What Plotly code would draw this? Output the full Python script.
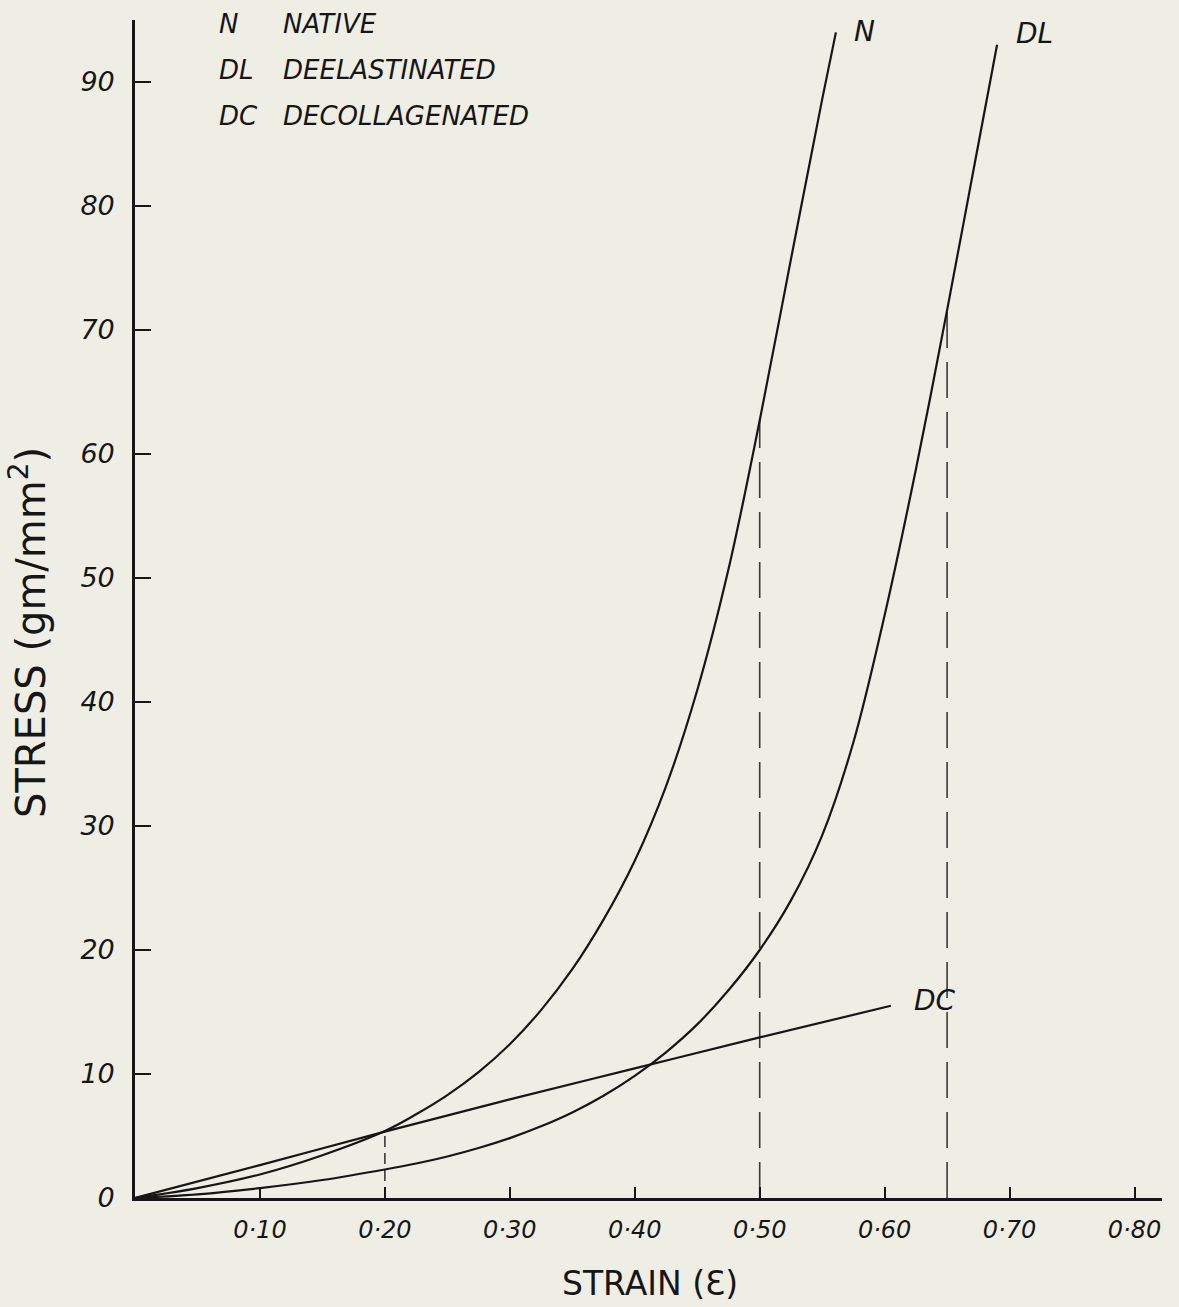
import plotly.graph_objects as go

# Stress-strain curves (stress in gm/mm^2 against strain)
strain_native = [0.0, 0.05, 0.10, 0.15, 0.20, 0.225, 0.25, 0.275, 0.30, 0.325, 0.35, 0.375,
                 0.40, 0.425, 0.45, 0.475, 0.50, 0.525, 0.55, 0.561]
stress_native = [0.0, 0.8, 1.9, 3.45, 5.4, 6.75, 8.3, 10.15, 12.4, 15.15, 18.45, 22.45,
                 27.2, 33.2, 40.95, 50.7, 62.7, 75.7, 88.6, 94.0]

strain_deelast = [0.0, 0.05, 0.10, 0.15, 0.20, 0.225, 0.25, 0.275, 0.30, 0.325, 0.35, 0.375,
                  0.40, 0.425, 0.45, 0.475, 0.50, 0.525, 0.55, 0.575, 0.60, 0.625, 0.65, 0.67, 0.69]
stress_deelast = [0.0, 0.3, 0.8, 1.45, 2.3, 2.78, 3.35, 4.03, 4.83, 5.78, 6.9, 8.25,
                  9.85, 11.75, 14.0, 16.75, 20.0, 24.0, 29.25, 36.75, 47.0, 58.75, 71.6, 82.3, 93.0]

strain_decoll = [0.0, 0.10, 0.20, 0.30, 0.40, 0.50, 0.605]
stress_decoll = [0.0, 2.65, 5.35, 7.95, 10.45, 12.95, 15.5]

# Vertical reference drops at selected strains
drop_strain = [0.20, 0.50, 0.65]
drop_stress = [5.4, 62.7, 71.6]

x_ticks = [0.10, 0.20, 0.30, 0.40, 0.50, 0.60, 0.70, 0.80]
x_ticktext = ["0·10", "0·20", "0·30", "0·40", "0·50", "0·60", "0·70", "0·80"]
y_ticks = [0, 10, 20, 30, 40, 50, 60, 70, 80, 90]

curve_labels = ["N", "DL", "DC"]
key_codes = ["N", "DL", "DC"]
key_names = ["NATIVE", "DEELASTINATED", "DECOLLAGENATED"]

INK = "#161616"
PAPER = "#eeeee5"
FONT = "DejaVu Sans"

# plot-area geometry in pixels (used to place paper-referenced text)
PLOT_W = 1179 - 135 - 17
PLOT_H = 1307 - 20 - 109

fig = go.Figure()

dash_styles = ["11px,6px", "36px,14px", "36px,14px"]
for xs, ys, dash in zip(drop_strain, drop_stress, dash_styles):
    fig.add_trace(go.Scatter(
        x=[xs, xs], y=[0, ys], mode="lines",
        line=dict(color="#3a3a3a", width=1.6, dash=dash),
        hoverinfo="skip", showlegend=False,
    ))

for xs, ys in [(strain_native, stress_native),
               (strain_deelast, stress_deelast),
               (strain_decoll, stress_decoll)]:
    fig.add_trace(go.Scatter(
        x=xs, y=ys, mode="lines",
        line=dict(color=INK, width=2.2, shape="spline", smoothing=1.0),
        hoverinfo="skip", showlegend=False,
    ))

annotations = []
# Curve end labels
label_pos = [(strain_native[-1], stress_native[-1], 16, 1),
             (strain_deelast[-1], stress_deelast[-1], 17, 11),
             (strain_decoll[-1], stress_decoll[-1], 21, 5)]
for text, (xv, yv, dx, dy) in zip(curve_labels, label_pos):
    annotations.append(dict(
        x=xv, y=yv, xref="x", yref="y", text=text, showarrow=False,
        xanchor="left", yanchor="middle", xshift=dx, yshift=dy,
        font=dict(family=FONT, size=28, color=INK, style="italic"),
    ))

# Key in the upper-left corner
for i, (code, name) in enumerate(zip(key_codes, key_names)):
    ypos = 1.0 - (24 + 46 * i - 20) / PLOT_H
    annotations.append(dict(
        x=(217 - 135) / PLOT_W, y=ypos, xref="paper", yref="paper",
        text=code, showarrow=False, xanchor="left", yanchor="middle",
        font=dict(family=FONT, size=26, color=INK, style="italic"),
    ))
    annotations.append(dict(
        x=(281 - 135) / PLOT_W, y=ypos, xref="paper", yref="paper",
        text=name, showarrow=False, xanchor="left", yanchor="middle",
        font=dict(family=FONT, size=26, color=INK, style="italic"),
    ))

# Axis titles
annotations.append(dict(
    x=-(135 - 28) / PLOT_W, y=(1198 - 633) / PLOT_H, xref="paper", yref="paper",
    text="STRESS (gm/mm<sup>2</sup>)", textangle=-90, showarrow=False,
    xanchor="center", yanchor="middle",
    font=dict(family=FONT, size=40, color=INK),
))
annotations.append(dict(
    x=(650 - 135) / PLOT_W, y=-(1283 - 1198) / PLOT_H, xref="paper", yref="paper",
    text="STRAIN (Ɛ)", showarrow=False, xanchor="center", yanchor="middle",
    font=dict(family=FONT, size=33, color=INK),
))

fig.update_layout(
    width=1179, height=1307,
    margin=dict(l=135, r=17, t=20, b=109),
    paper_bgcolor=PAPER, plot_bgcolor=PAPER,
    font=dict(family=FONT, color=INK),
    annotations=annotations,
    showlegend=False,
)

fig.update_xaxes(
    range=[0, 0.822], showgrid=False, zeroline=False,
    showline=True, linecolor=INK, linewidth=2.7,
    ticks="inside", ticklen=11, tickwidth=2, tickcolor=INK,
    tickvals=x_ticks, ticktext=x_ticktext, ticklabelstandoff=8,
    tickfont=dict(family=FONT, size=24, color=INK, style="italic"),
)
fig.update_yaxes(
    range=[0, 95], showgrid=False, zeroline=False,
    showline=True, linecolor=INK, linewidth=2.7,
    ticks="inside", ticklen=16, tickwidth=2, tickcolor=INK,
    tickvals=y_ticks, ticklabelstandoff=12,
    tickfont=dict(family=FONT, size=27, color=INK, style="italic"),
)

fig.write_html("out.html")
